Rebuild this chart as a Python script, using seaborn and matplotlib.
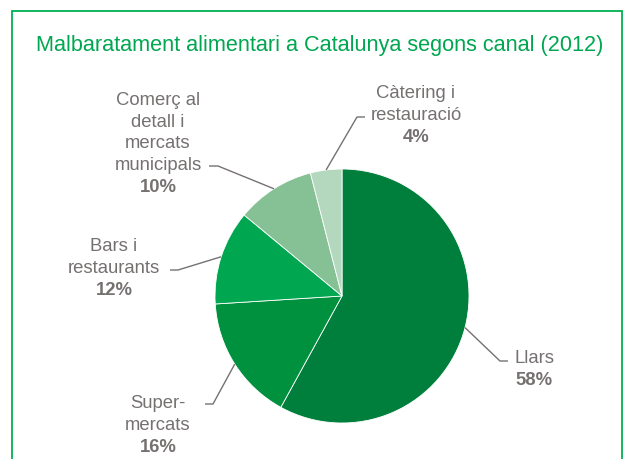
import matplotlib
matplotlib.use("Agg")
import matplotlib.pyplot as plt
import seaborn as sns
import numpy as np
from matplotlib.patches import Rectangle

categories = ["Llars", "Super-\nmercats", "Bars i\nrestaurants",
              "Comerç al\ndetall i\nmercats\nmunicipals", "Càtering i\nrestauració"]
values = [58, 16, 12, 10, 4]
colors = ["#007E3B", "#00913F", "#00A650", "#86C095", "#B3D8BE"]

title = "Malbaratament alimentari a Catalunya segons canal (2012)"

sns.set_theme(style="white")
plt.rcParams['font.family'] = ['Liberation Sans', 'DejaVu Sans']

W, H = 624, 459
fig = plt.figure(figsize=(W / 100, H / 100), dpi=100)
fig.patch.set_facecolor("white")

# pie centre / radius in pixels
cx, cy, R = 342, 296, 127
ax = fig.add_axes([(cx - R) / W, (H - cy - R) / H, 2 * R / W, 2 * R / H])

wedges, _ = ax.pie(values, colors=colors, startangle=90, counterclock=False,
                   radius=1, wedgeprops=dict(linewidth=0.6, edgecolor="white"))
ax.set_xlim(-1, 1)
ax.set_ylim(-1, 1)
ax.set_aspect("equal")
ax.axis("off")

def px(x, y):
    return ((x - cx) / R, (cy - y) / R)

# label layout (pixels): text centre x, baseline of percentage line, elbow, line end
layout = [
    (534, 385, (500, 361), (508, 361)),
    (158, 452, (213, 404), (205, 404)),
    (114, 295, (178, 270), (170, 270)),
    (158, 192, (218, 166), (209, 166)),
    (416, 142, (357, 117), (365, 117)),
]
step = 21.8
grey = "#767171"
fs = 13.3
for w, cat, val, (tx, pb, elbow, lend) in zip(wedges, categories, values, layout):
    ang = np.deg2rad((w.theta1 + w.theta2) / 2)
    sx, sy = np.cos(ang), np.sin(ang)
    ex, ey = px(*elbow)
    lx, ly = px(*lend)
    ax.plot([sx, ex, lx], [sy, ey, ly], color=grey, lw=1.0, clip_on=False,
            solid_capstyle="butt")
    lines = cat.split("\n")
    n = len(lines)
    for i, line in enumerate(lines):
        x, y = px(tx, pb - (n - i) * step)
        ax.text(x, y, line, ha="center", va="baseline", fontsize=fs,
                color=grey, clip_on=False)
    x, y = px(tx, pb)
    ax.text(x, y, f"{val}%", ha="center", va="baseline", fontsize=fs,
            fontweight="bold", color=grey, clip_on=False)

fig.text(320 / W, (H - 46) / H, title, ha="center", va="center",
         fontsize=15.6, color="#00A650")

fig.patches.append(Rectangle((11.5 / W, -0.1), (621.5 - 11.5) / W, (H - 10.5) / H + 0.1,
                             transform=fig.transFigure, fill=False,
                             edgecolor="#00B050", linewidth=1.3))

fig.savefig("out.png", dpi=100)
